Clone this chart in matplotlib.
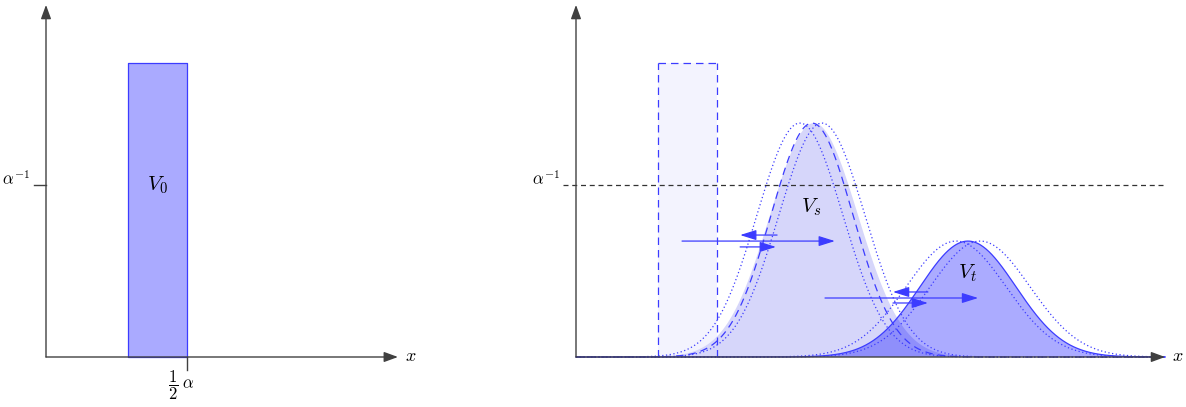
import matplotlib
matplotlib.use("Agg")
import matplotlib.pyplot as plt
import numpy as np

plt.rcParams['mathtext.fontset'] = 'cm'
plt.rcParams['font.family'] = ['DejaVu Serif']

# units: x in alpha (1/2 alpha at 0.5), y in 1/alpha
bar_x = [0.29, 0.5]
bar_h = 1.71
alpha_inv = 1.0

# gaussians: (centre, sigma, height)
vs_line = (0.837, 0.1454, 1.36)
vs_fill = (0.844, 0.156, 1.36)
vs_dots = [(0.794, 0.1525, 1.36), (0.872, 0.1525, 1.36)]
vt_line = (1.390, 0.170, 0.674)
vt_dots = [(1.348, 0.177, 0.674), (1.433, 0.177, 0.674)]

# flux arrows: (x_start, x_end, y)
vs_arrows = [(0.376, 0.918, 0.674), (0.713, 0.582, 0.709), (0.582, 0.709, 0.640)]
vt_arrows = [(0.883, 1.426, 0.343), (1.248, 1.124, 0.378), (1.124, 1.248, 0.314)]

blue = '#3c3cff'
axcol = '#404040'
W, H = 1186, 407


def gauss(x, p):
    c, s, h = p
    return h * np.exp(-(x - c) ** 2 / (2 * s ** 2))


def make_axes(fig, px0, px1, x_origin):
    # x origin pixel, y origin pixel at 357
    ax = fig.add_axes([px0 / W, 0, (px1 - px0) / W, 1])
    ax.set_xlim((px0 - x_origin) / 282, (px1 - x_origin) / 282)
    ax.set_ylim((357 - H) / 172, 357 / 172)
    ax.axis('off')
    return ax


def draw_axes(ax, xend, yend=2.047):
    ax.annotate('', xy=(xend, 0), xytext=(0, 0),
                arrowprops=dict(arrowstyle='-|>,head_length=0.6,head_width=0.22',
                                color=axcol, lw=1.0, mutation_scale=14,
                                shrinkA=0, shrinkB=0), zorder=10)
    ax.annotate('', xy=(0, yend), xytext=(0, 0),
                arrowprops=dict(arrowstyle='-|>,head_length=0.6,head_width=0.22',
                                color=axcol, lw=1.0, mutation_scale=14,
                                shrinkA=0, shrinkB=0), zorder=10)
    ax.text(xend + 0.045, 0.005, r'$x$', fontsize=13, ha='center', va='center')


def flux(ax, arrows):
    for x0, x1, y in arrows:
        ax.annotate('', xy=(x1, y), xytext=(x0, y),
                    arrowprops=dict(arrowstyle='-|>,head_length=0.7,head_width=0.22',
                                    color=blue, lw=0.9, mutation_scale=14,
                                    shrinkA=0, shrinkB=0), zorder=8)


fig = plt.figure(figsize=(W / 100, H / 100), dpi=100)

# left panel
ax1 = make_axes(fig, 0, 500, 46)
ax1.fill_between(bar_x, 0, bar_h, facecolor='#aaaaff', edgecolor=blue, lw=0.9)
draw_axes(ax1, 1.248)
ax1.plot([-0.043, 0], [alpha_inv, alpha_inv], color=axcol, lw=1.0)
ax1.plot([0.5, 0.5], [0, -0.075], color=axcol, lw=1.0)
ax1.text(-0.057, 1.03, r'$\alpha^{-1}$', fontsize=12, ha='right', va='center')
ax1.text(0.48, -0.165, r'$\dfrac{1}{2}\;\alpha$', fontsize=12, ha='center', va='center')
ax1.text(0.394, 1.0, r'$V_0$', fontsize=15, ha='center', va='center')

# right panel
ax2 = make_axes(fig, 500, 1186, 576)
xs = np.linspace(0, 2.089, 800)
ax2.fill_between(bar_x, 0, bar_h, facecolor='#f3f3fe', edgecolor='none')
for xv in bar_x:
    ax2.plot([xv, xv], [0, bar_h], color=blue, lw=0.9, ls=(0, (6, 4)))
ax2.plot(bar_x, [bar_h, bar_h], color=blue, lw=0.9, ls=(0, (6, 4)))

ax2.fill_between(xs, 0, gauss(xs, vs_fill), facecolor='#d6d6fa', edgecolor='none')
ax2.plot(xs, gauss(xs, vs_line), color=blue, lw=0.9, ls=(0, (6, 4)))
for p in vs_dots:
    ax2.plot(xs, gauss(xs, p), color=blue, lw=0.9, ls=(0, (1, 2)))

ax2.fill_between(xs, 0, gauss(xs, vt_line), facecolor=(0, 0, 1, 0.33), edgecolor='none')
ax2.plot(xs, gauss(xs, vt_line), color=blue, lw=0.9)
for p in vt_dots:
    ax2.plot(xs, gauss(xs, p), color=blue, lw=0.9, ls=(0, (1, 2)))

ax2.plot([-0.046, 2.089], [alpha_inv, alpha_inv], color='#333333', lw=0.9, ls=(0, (4, 3)))
flux(ax2, vs_arrows)
flux(ax2, vt_arrows)
draw_axes(ax2, 2.089)
ax2.text(-0.057, 1.03, r'$\alpha^{-1}$', fontsize=12, ha='right', va='center')
ax2.text(0.833, 0.872, r'$V_s$', fontsize=15, ha='center', va='center')
ax2.text(1.387, 0.488, r'$V_t$', fontsize=15, ha='center', va='center')

fig.savefig('out.png', dpi=100)
